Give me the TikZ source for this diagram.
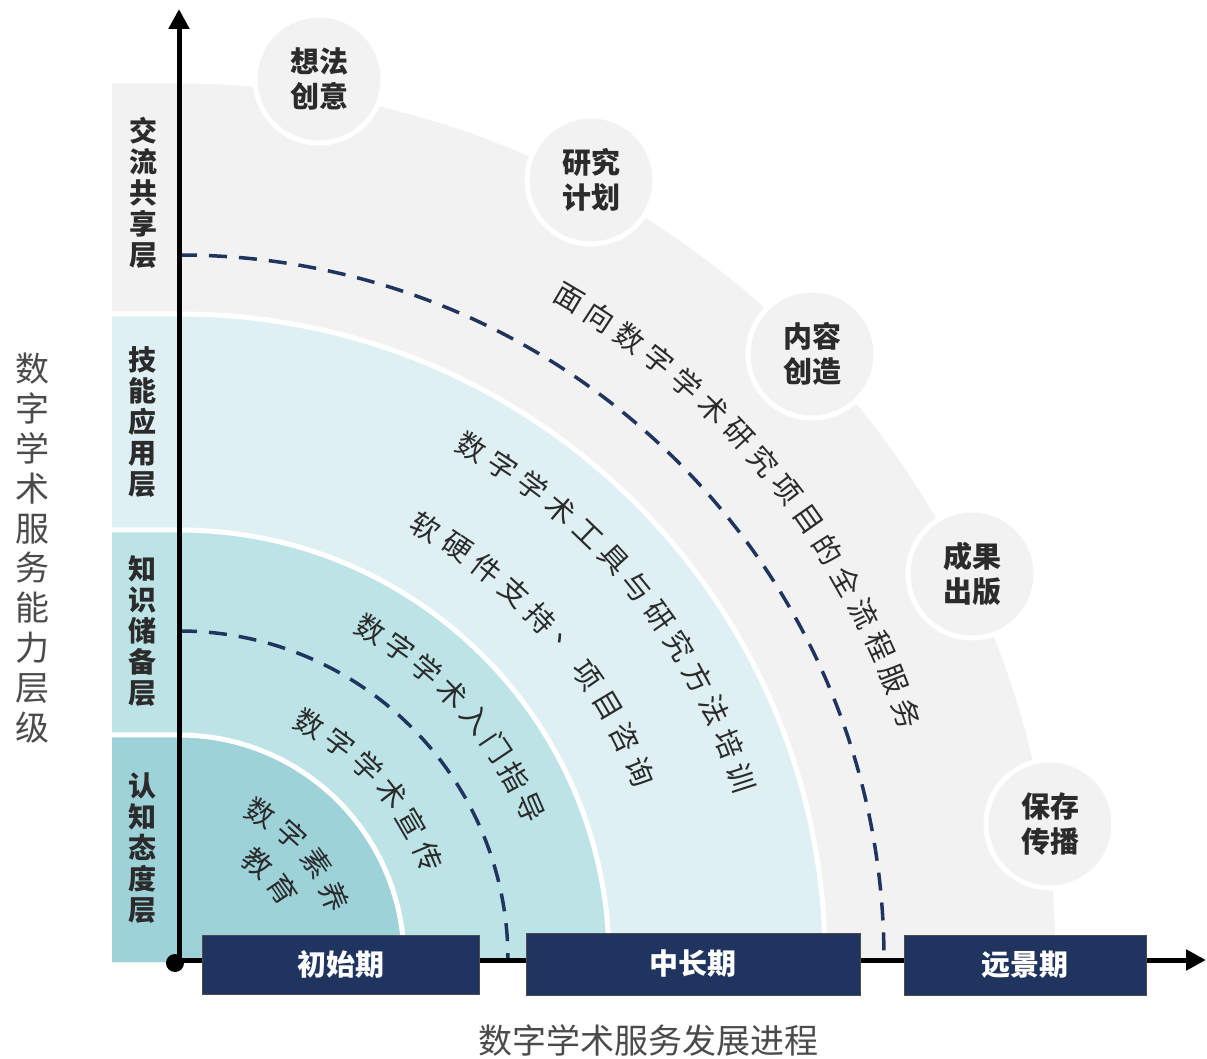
\documentclass[tikz,border=0pt]{standalone}
\usepackage{fontspec}
\newfontfamily\cjk{Noto Sans CJK SC}
\usetikzlibrary{arrows.meta}
\definecolor{layA}{HTML}{9DD2D9}
\definecolor{layB}{HTML}{BCE3E6}
\definecolor{layC}{HTML}{DEF0F3}
\definecolor{layD}{HTML}{F2F2F2}
\definecolor{navy}{HTML}{1F3560}
\definecolor{txt}{HTML}{2B2B2B}
\tikzset{
  arcchar/.style={font=\cjk\fontsize{29}{29}\selectfont, text=txt, inner sep=0pt},
  layerlab/.style={font=\cjk\bfseries\fontsize{28}{31}\selectfont, align=center, text=txt, inner sep=0pt},
  bubble/.style={circle, minimum size=128pt, inner sep=0pt, fill=layD, draw=white, line width=5pt,
    font=\cjk\bfseries\fontsize{29}{35}\selectfont, align=center, text=txt},
  stagebox/.style={draw=black!70, line width=1pt, fill=navy, text=white,
    font=\cjk\bfseries\fontsize{29}{29}\selectfont, inner sep=0pt},
  dashline/.style={draw=navy, line width=3.5pt, dash pattern=on 18pt off 12pt},
  axisline/.style={line width=5pt, -{Triangle[length=20pt,width=20pt]}},
  sepline/.style={draw=white, line width=5pt},
  axislab/.style={font=\cjk\fontsize{34}{39.8}\selectfont, text=txt!85, align=center, inner sep=0pt},
}
\newcommand\arcline[5]{%
  \foreach \ch [count=\i from 0] in {#5} {
    \pgfmathsetmacro\ang{#3-\i*#4}
    \node[arcchar, rotate=\ang-90] (#1-\i) at ([shift={(\ang:#2)}]O) {\ch};
  }}
\begin{document}
\begin{tikzpicture}[x=1pt,y=1pt]
\useasboundingbox (0,0) rectangle (1207,1058);
\coordinate (O) at (179,98);
% layers
\foreach \r/\c in {879/layD,646/layC,430/layB,225/layA}{
  \fill[\c] (112,96) -- (112,98+\r) -- (179,98+\r) arc[start angle=90,end angle=0,radius=\r] -- (179+\r,96) -- cycle;
  \draw[sepline] (112,98+\r) -- (179,98+\r) arc[start angle=90,end angle=0,radius=\r];
}
% dashed sectors
\draw[dashline, dash phase=15pt] (O) -- ++(0,705) arc[start angle=90,end angle=0,radius=705] -- cycle;
\draw[dashline, dash phase=1pt] (O) -- ++(0,329) arc[start angle=90,end angle=0,radius=329] -- cycle;
% axes
\coordinate (yend) at (179,1049);
\coordinate (xend) at (1206,98);
\draw[axisline] (O) -- (yend);
\draw[axisline] (O) -- (xend);
\fill[black] (175,95) circle (9);
% stage boxes
\node[stagebox, minimum width=277pt, minimum height=59pt] (s1) at (340.5,93.5) {初始期};
\node[stagebox, minimum width=334pt, minimum height=62pt] (s2) at (693,94) {中长期};
\node[stagebox, minimum width=242pt, minimum height=60pt] (s3) at (1025,93) {远景期};
% bubbles
\node[bubble] (b1) at (319,979) {想法\\创意};
\node[bubble] (b2) at (591,878) {研究\\计划};
\node[bubble] (b3) at (812,704) {内容\\创造};
\node[bubble] (b4) at (972,484) {成果\\出版};
\node[bubble] (b5) at (1050,234) {保存\\传播};
% layer labels
\node[layerlab] (l4) at (143,865) {交\\流\\共\\享\\层};
\node[layerlab] (l3) at (142,636) {技\\能\\应\\用\\层};
\node[layerlab] (l2) at (142,427) {知\\识\\储\\备\\层};
\node[layerlab] (l1) at (142,210) {认\\知\\态\\度\\层};
% axis labels
\node[axislab] (ylab) at (32,510) {数\\字\\学\\术\\服\\务\\能\\力\\层\\级};
\node[axislab] (xlab) at (648,18) {数字学术服务发展进程};
% arc texts
\arcline{ta}{768}{59.5}{2.72}{面,向,数,字,学,术,研,究,项,目,的,全,流,程,服,务}
\arcline{tb}{591}{60.3}{3.53}{数,字,学,术,工,具,与,研,究,方,法,培,训}
\arcline{tc}{498}{60.3}{4.23}{软,硬,件,支,持,、,项,目,咨,询}
\arcline{td}{382}{59.9}{5.21}{数,字,学,术,入,门,指,导}
\arcline{te}{270}{61.2}{7.72}{数,字,学,术,宣,传}
\arcline{tf}{168}{60.8}{12.87}{数,字,素,养}
\arcline{tg}{125}{51.2}{17}{教,育}
\end{tikzpicture}
\end{document}
